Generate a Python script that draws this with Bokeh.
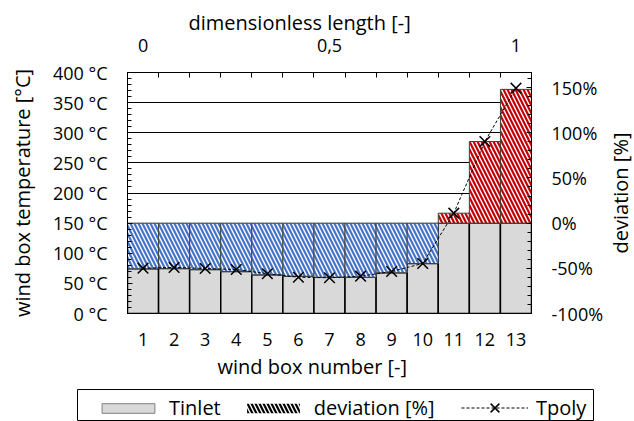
from bokeh.plotting import figure
from bokeh.models import (Range1d, LinearAxis, FixedTicker, SingleIntervalTicker,
                          PrintfTickFormatter, NumeralTickFormatter, Legend, LegendItem,
                          Title, ColumnDataSource, Grid, Label)
from bokeh.layouts import column, row
from bokeh.embed import file_html
from bokeh.resources import INLINE
import math

# ---------------- data ----------------
boxes = list(range(1, 14))
tinlet = [74.2, 74.7, 73.0, 69.7, 64.2, 61.9, 60.2, 60.2, 67.6, 83.0, 150, 150, 150]
deviation = [-50.5, -50.2, -51.3, -53.5, -57.2, -58.7, -59.9, -59.9, -54.9, -44.7, 11.0, 90.3, 148.0]
tpoly = [75.2, 76.5, 74.7, 73.0, 66.0, 60.2, 59.3, 61.9, 69.7, 83.0, 166.5, 285.5, 374.0]
t_ref = 150
length_ticks = [1, 7, 13]
length_labels = ["0", "0,5", "1"]
y_max = 400

FONT = "Open Sans"
FS = "18px"
FT = "20px"

dev_t = [t_ref * (1 + d / 100.0) for d in deviation]
neg = [i for i, d in enumerate(deviation) if d < 0]
pos = [i for i, d in enumerate(deviation) if d >= 0]
src_neg = ColumnDataSource(dict(x=[boxes[i] for i in neg],
                                bottom=[dev_t[i] for i in neg],
                                top=[t_ref for i in neg]))
src_pos = ColumnDataSource(dict(x=[boxes[i] for i in pos],
                                bottom=[t_ref for i in pos],
                                top=[dev_t[i] for i in pos]))

p = figure(width=606, height=389, x_range=Range1d(0.5, 13.5), y_range=Range1d(0, y_max),
           output_backend="svg", toolbar_location=None,
           x_axis_type=None, y_axis_type=None,
           min_border_left=127, min_border_right=71, min_border_top=72, min_border_bottom=76)
p.extra_y_ranges = {"dev": Range1d(-1, y_max / t_ref - 1)}
p.outline_line_color = "black"
p.outline_line_width = 1
p.background_fill_color = "white"
p.border_fill_color = "white"

yticker = SingleIntervalTicker(interval=50, num_minor_ticks=5)
p.add_layout(Grid(dimension=1, ticker=yticker, grid_line_color="black", grid_line_width=1))

p.vbar(x=boxes, top=tinlet, bottom=0, width=1.0, fill_color="#d9d9d9",
       line_color="black", line_width=1.5)
p.vbar(x="x", top="top", bottom="bottom", width=1.0, source=src_neg,
       fill_color="white", hatch_pattern="\\", hatch_color="#4472c4",
       hatch_scale=8, hatch_weight=2.2, line_color="#404040", line_width=1)
p.vbar(x="x", top="top", bottom="bottom", width=1.0, source=src_pos,
       fill_color="white", hatch_pattern="\\", hatch_color="#c00000",
       hatch_scale=8, hatch_weight=2.2, line_color="#404040", line_width=1)

p.line(boxes, tpoly, line_color="black", line_dash="3 2", line_width=1)
p.scatter(boxes, tpoly, marker="x", size=15, line_color="black", line_width=1.5)

left = LinearAxis(ticker=yticker, formatter=PrintfTickFormatter(format="%d °C"),
                  axis_label="wind box temperature [°C]")
right = LinearAxis(y_range_name="dev", ticker=SingleIntervalTicker(interval=0.5, num_minor_ticks=5),
                   formatter=NumeralTickFormatter(format="0%"))
top = LinearAxis(ticker=FixedTicker(ticks=length_ticks,
                                    minor_ticks=[b + 0.5 for b in boxes[:-1]]),
                 major_label_overrides={t: l for t, l in zip(length_ticks, length_labels)})
bottom = LinearAxis(ticker=FixedTicker(ticks=boxes))

for ax in (left, right, top, bottom):
    ax.axis_line_color = "black"
    ax.axis_line_width = 1
    ax.major_tick_line_color = "black"
    ax.minor_tick_line_color = "black"
    ax.major_tick_out = 0
    ax.minor_tick_out = 0
    ax.major_label_text_font = FONT
    ax.major_label_text_font_size = FS
    ax.major_label_text_color = "black"
    ax.axis_label_text_font = FONT
    ax.axis_label_text_font_size = FT
    ax.axis_label_text_font_style = "normal"
    ax.axis_label_text_color = "black"

left.major_tick_in = 5
left.minor_tick_in = 4
left.major_label_standoff = 20
left.axis_label_standoff = 14
right.major_tick_in = 5
right.minor_tick_in = 4
right.major_label_standoff = 20
top.major_tick_in = 0
top.minor_tick_in = 5
top.major_label_standoff = 21
bottom.major_tick_in = 0
bottom.minor_tick_in = 0
bottom.major_label_standoff = 19

p.add_layout(left, "left")
p.add_layout(right, "right")
p.add_layout(top, "above")
p.add_layout(Title(text="dimensionless length [-]", align="left", offset=61, standoff=0,
                   text_font=FONT, text_font_size=FT, text_font_style="normal",
                   text_color="black"), "above")
p.add_layout(bottom, "below")
p.add_layout(Title(text="wind box number [-]", align="left", offset=90, standoff=5,
                   text_font=FONT, text_font_size=FT, text_font_style="normal",
                   text_color="black"), "below")

# ---------------- right axis title strip (reads bottom to top) ----------------
r = figure(width=28, height=389, x_range=Range1d(0, 1), y_range=Range1d(0, 1),
           output_backend="svg", toolbar_location=None, x_axis_type=None, y_axis_type=None,
           min_border_left=0, min_border_right=0, min_border_top=72, min_border_bottom=76)
r.outline_line_color = None
r.background_fill_color = "white"
r.border_fill_color = "white"
r.add_layout(Label(x=0.5, y=0.5, text="deviation [%]", angle=math.pi / 2,
                   text_align="center", text_baseline="middle",
                   text_font=FONT, text_font_size=FT, text_color="black"))

# ---------------- legend strip ----------------
q = figure(width=634, height=32, x_range=Range1d(0, 1), y_range=Range1d(0, 1),
           output_backend="svg", toolbar_location=None, x_axis_type=None, y_axis_type=None,
           min_border_left=77, min_border_right=41, min_border_top=0, min_border_bottom=0)
q.outline_line_color = "black"
q.outline_line_width = 1
q.background_fill_color = "white"
q.border_fill_color = "white"

# legend-only renderers: one point each, placed outside the visible range
leg_gray = q.vbar(x=[-5], top=[-5], bottom=[-6], width=1.0, fill_color="#d9d9d9",
                  line_color="#808080", line_width=1)
leg_hatch = q.vbar(x=[-5], top=[-5], bottom=[-6], width=1.0, fill_color="white",
                   hatch_pattern="\\", hatch_color="black", hatch_scale=8, hatch_weight=2.2,
                   line_color=None)
leg_line = q.line(x=[-5, -4], y=[-5, -5], line_color="black", line_dash="3 2", line_width=1)
leg_x = q.scatter(x=[-5], y=[-5], marker="x", line_color="black", line_width=1.5)

common = dict(orientation="horizontal", border_line_alpha=0, background_fill_alpha=0,
              padding=4, spacing=19, label_standoff=8, margin=0,
              label_text_font=FONT, label_text_font_size=FT, label_text_color="black")
leg1 = Legend(items=[LegendItem(label="Tinlet", renderers=[leg_gray]),
                     LegendItem(label="deviation [%]", renderers=[leg_hatch])],
              location=(14, -4), glyph_width=66, glyph_height=12, **common)
leg2 = Legend(items=[LegendItem(label="Tpoly", renderers=[leg_line, leg_x])],
              location=(380, -6), glyph_width=67, glyph_height=31, **common)
q.add_layout(leg1, "center")
q.add_layout(leg2, "center")

layout = column(row(p, r, spacing=0), row(q), spacing=0)
open("out.html", "w").write(file_html(layout, INLINE))
